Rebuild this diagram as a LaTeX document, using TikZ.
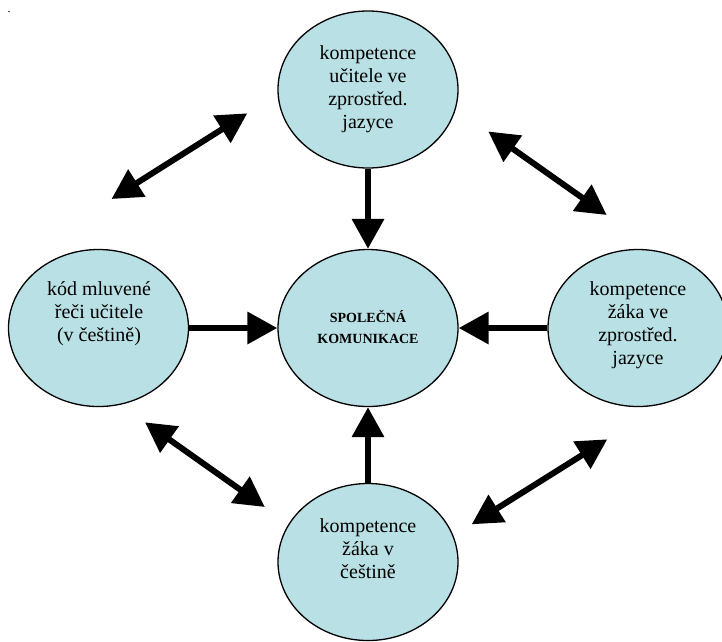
\documentclass[tikz,border=0pt]{standalone}
\usepackage{fontspec}
\setmainfont{Liberation Serif}
\usetikzlibrary{shapes.geometric,arrows.meta}
\definecolor{bubblefill}{RGB}{185,224,228}
\definecolor{specgray}{RGB}{90,90,90}
\begin{document}
\begin{tikzpicture}[x=1pt,y=-1pt,
  bub/.style={ellipse, draw=black, line width=1.3pt, fill=bubblefill,
    minimum width=180pt, minimum height=157pt, inner sep=0pt},
  txt/.style={anchor=base, inner sep=0pt, font=\fontsize{20}{23}\selectfont},
  ctxt/.style={anchor=base, inner sep=0pt, font=\fontsize{14}{21}\selectfont\bfseries},
  headtip/.tip={Triangle[length=30pt,width=31pt]},
  arr/.style={line width=6.5pt, -headtip},
  dbl/.style={line width=6pt, headtip-headtip}]
\useasboundingbox (0,0) rectangle (722,641);
\fill[specgray] (7.7,10.7) rectangle (9.7,11.7);
% bubbles
\node[bub] (top) at (368,89.5) {};
\node[bub] (mid) at (368,328) {};
\node[bub] (left) at (98.5,328) {};
\node[bub] (right) at (638,328) {};
\node[bub] (bottom) at (368,562) {};
% texts
\node[txt] (ttop) at (368,59) {\begin{tabular}[t]{@{}c@{}}kompetence\\učitele ve\\zprostřed.\\jazyce\end{tabular}};
\node[ctxt] (tmid) at (368,322.3) {\begin{tabular}[t]{@{}c@{}}SPOLEČNÁ\\KOMUNIKACE\end{tabular}};
\node[txt] (tleft) at (99,295.5) {\begin{tabular}[t]{@{}c@{}}kód mluvené\\řeči učitele\\(v češtině)\end{tabular}};
\node[txt] (tright) at (638,295.5) {\begin{tabular}[t]{@{}c@{}}kompetence\\žáka ve\\zprostřed.\\jazyce\end{tabular}};
\node[txt] (tbottom) at (368,532) {\begin{tabular}[t]{@{}c@{}}kompetence\\žáka v\\češtině\end{tabular}};
% arrows into the centre
\draw[arr] (top) -- (mid);
\draw[arr] (left) -- (mid);
\draw[arr] (right) -- (mid);
\draw[arr] (bottom) -- (mid);
% double arrows
\coordinate (tla) at (111.5,199);
\coordinate (tlb) at (247.3,113.3);
\coordinate (tra) at (488.3,131.5);
\coordinate (trb) at (606.7,215);
\coordinate (bla) at (145,422.3);
\coordinate (blb) at (264.8,507);
\coordinate (bra) at (471.7,524.3);
\coordinate (brb) at (607.3,439.3);
\draw[dbl] (tla) -- (tlb);
\draw[dbl] (tra) -- (trb);
\draw[dbl] (bla) -- (blb);
\draw[dbl] (bra) -- (brb);
\end{tikzpicture}
\end{document}
